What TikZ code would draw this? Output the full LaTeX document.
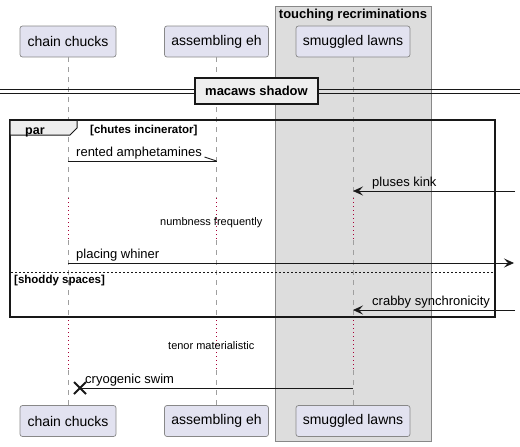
\documentclass[tikz,border=0pt]{standalone}
\usepackage{fontspec}
\setmainfont{Liberation Sans}
\usetikzlibrary{arrows.meta}
\definecolor{partfill}{HTML}{E2E2F0}
\definecolor{partline}{HTML}{888888}
\definecolor{boxfill}{HTML}{DDDDDD}
\definecolor{boxline}{HTML}{888888}
\definecolor{delaycol}{HTML}{A80036}
\definecolor{ink}{HTML}{181818}
\definecolor{tabfill}{HTML}{EEEEEE}
\begin{document}
\begin{tikzpicture}[x=1pt,y=-1pt,
  part/.style={draw=partline, fill=partfill, rounded corners=2.5pt, minimum height=31pt, inner sep=0pt, line width=0.7pt, font=\fontsize{14}{16}\selectfont},
  life/.style={draw=gray!75, dash pattern=on 5pt off 5pt, line width=0.6pt},
  delayline/.style={draw=delaycol, dash pattern=on 1pt off 3pt, line width=0.8pt},
  msg/.style={draw=ink, line width=0.8pt},
  arr/.style={-{Stealth[length=10pt,width=9pt,inset=4pt]}},
  msglabel/.style={anchor=base west, inner sep=0pt, font=\fontsize{13}{15}\selectfont},
  small/.style={anchor=base west, inner sep=0pt, font=\fontsize{11}{13}\selectfont},
  grouplabel/.style={anchor=base west, inner sep=0pt, font=\bfseries\fontsize{11.5}{13}\selectfont},
  framestyle/.style={draw=ink, line width=1.6pt}
]
\useasboundingbox (0,0) rectangle (520,447);

% box group
\node[draw=boxline, fill=boxfill, line width=0.7pt, minimum width=156pt, minimum height=435pt, inner sep=0pt, anchor=north west] (grp) at (275,6) {};
\node[anchor=base, inner sep=0pt, font=\bfseries\fontsize{13}{15}\selectfont] (grplab) at (353,18.5) {touching recriminations};

% participants
\node[part, minimum width=96pt] (ct) at (68,41.5) {chain chucks};
\node[part, minimum width=104pt] (at) at (216.5,41.5) {assembling eh};
\node[part, minimum width=114pt] (st) at (353,41.5) {smuggled lawns};
\node[part, minimum width=96pt] (cb) at (68,421) {chain chucks};
\node[part, minimum width=104pt] (ab) at (216.5,421) {assembling eh};
\node[part, minimum width=114pt] (sb) at (353,421) {smuggled lawns};

% delay coordinates
\coordinate (d1a) at (0,198);
\coordinate (d1b) at (0,240);
\coordinate (d2a) at (0,320);
\coordinate (d2b) at (0,370);

% lifelines
\foreach \t/\b in {ct/cb, at/ab, st/sb}{
  \draw[life] (\t.south) -- (\t.south |- d1a);
  \draw[delayline] (\t.south |- d1a) -- (\t.south |- d1b);
  \draw[life] (\t.south |- d1b) -- (\t.south |- d2a);
  \draw[delayline] (\t.south |- d2a) -- (\t.south |- d2b);
  \draw[life] (\t.south |- d2b) -- (\b.north);
}

% divider
\coordinate (dvL) at (0,91.3);
\coordinate (dvR) at (520,91.3);
\draw[ink, line width=0.9pt] ([yshift=-1.8pt]dvL) -- ([yshift=-1.8pt]dvR);
\draw[ink, line width=0.9pt] ([yshift=1.8pt]dvL) -- ([yshift=1.8pt]dvR);
\node[draw=ink, fill=tabfill, line width=1.5pt, minimum width=123pt, minimum height=26pt, inner sep=0pt, font=\bfseries\fontsize{13}{15}\selectfont] (div) at (256.5,91) {macaws shadow};

% par frame
\draw[framestyle] (10,120) rectangle (495,317);
\node[inner sep=0pt, minimum size=0pt] (parbox) at (252.5,218.5) {};
\draw[ink, line width=1pt, fill=tabfill] (10,120) -- (77,120) -- (77,128) -- (70,135) -- (10,135) -- cycle;
\draw[framestyle] (10,120) -- (77,120);
\node[anchor=base west, inner sep=0pt, font=\bfseries\fontsize{12.5}{14}\selectfont] (partab) at (25,134) {par};
\node[grouplabel] (g1) at (90,133) {[chutes incinerator]};
\draw[ink, line width=0.7pt, dash pattern=on 2pt off 2pt] (11,272) -- (494,272);
\node[grouplabel] (g2) at (14,283) {[shoddy spaces]};

% message 1: rented amphetamines (half arrow)
\coordinate (m1) at (0,161);
\draw[msg] (ct |- m1) -- (at |- m1) coordinate (m1e);
\draw[msg] (m1e) -- ++(-12,-4);
\node[msglabel] (l1) at (76,156) {rented amphetamines};

% message 2: pluses kink
\coordinate (m2r) at (515,191);
\draw[msg, arr] (m2r) -- (st |- m2r);
\node[msglabel] (l2) at (372,186) {pluses kink};

% delay text 1
\node[small] (dl1) at (160,225) {numbness frequently};

% message 3: placing whiner
\coordinate (m3r) at (514,263);
\draw[msg, arr] (ct |- m3r) -- (m3r);
\node[msglabel] (l3) at (76,258) {placing whiner};

% message 4: crabby synchronicity
\coordinate (m4r) at (515,310);
\draw[msg, arr] (m4r) -- (st |- m4r);
\node[msglabel] (l4) at (372,305) {crabby synchronicity};

% delay text 2
\node[small] (dl2) at (168,349) {tenor materialistic};

% message 5: cryogenic swim with destroy
\coordinate (m5) at (0,388);
\coordinate (xc) at (80,388);
\draw[msg] (st |- m5) -- (xc);
\draw[ink, line width=1.8pt] ([shift={(-6,-6)}]xc) -- ([shift={(6,6)}]xc);
\draw[ink, line width=1.8pt] ([shift={(-6,6)}]xc) -- ([shift={(6,-6)}]xc);
\node[msglabel] (l5) at (85,383) {cryogenic swim};
\end{tikzpicture}
\end{document}
